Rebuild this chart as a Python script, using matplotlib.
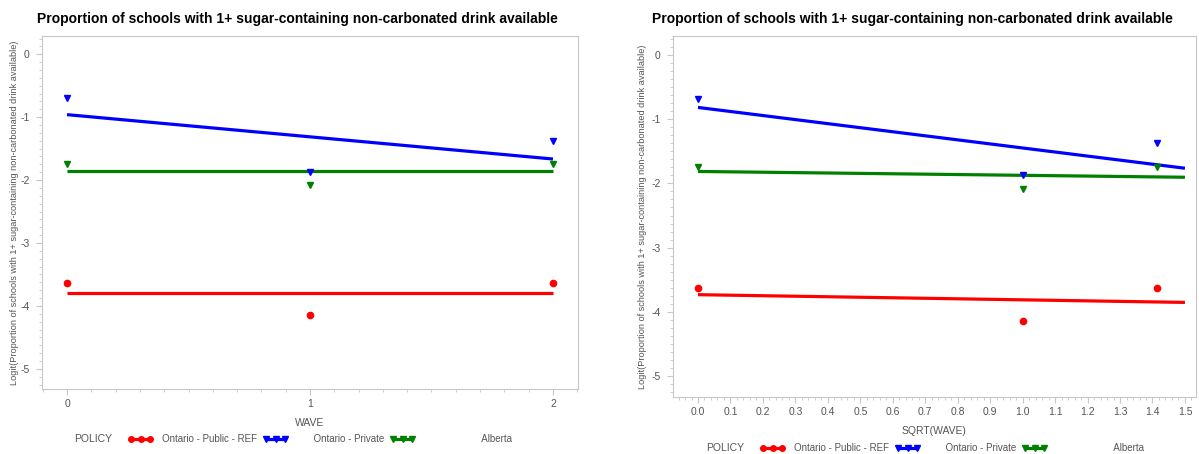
import numpy as np
import matplotlib
matplotlib.use("Agg")
import matplotlib.pyplot as plt
from matplotlib.lines import Line2D
from matplotlib.ticker import MultipleLocator

plt.rcParams['font.family'] = ['Liberation Sans', 'DejaVu Sans']
plt.rcParams['axes.unicode_minus'] = False

# observed logits per wave
wave = [0, 1, 2]
sqrt_wave = [0, 1, 1.414]
public_obs = [-3.63, -4.14, -3.63]
private_obs = [-0.69, -1.87, -1.38]
alberta_obs = [-1.745, -2.08, -1.745]

# fitted lines (end points)
fit_x_left = [0, 2]
public_fit_left = [-3.80, -3.80]
private_fit_left = [-0.96, -1.665]
alberta_fit_left = [-1.85, -1.85]

fit_x_right = [0, 1.5]
public_fit_right = [-3.73, -3.85]
private_fit_right = [-0.82, -1.765]
alberta_fit_right = [-1.815, -1.905]

labels = ["Ontario - Public - REF", "Ontario - Private", "Alberta"]
colors = ["#ff0000", "#0000ff", "#008000"]
markers = ["o", "v", "v"]

title = "Proportion of schools with 1+ sugar-containing non-carbonated drink available"
ylab = "Logit(Proportion of schools with 1+ sugar-containing non-carbonated drink available)"

fig = plt.figure(figsize=(11.99, 4.54), dpi=100)
ax1 = fig.add_axes([42/1199, 1-389/454, (578-42)/1199, (389-36)/454])
ax2 = fig.add_axes([673/1199, 1-397/454, (1196-673)/1199, (397-36)/454])

grey = "#c8c8c8"
tick_col = "#555555"


def draw(ax, xs, fx, obs, fits):
    for o, f, c, m in zip(obs, fits, colors, markers):
        ax.plot(fx, f, color=c, lw=2.3, solid_capstyle='butt', zorder=2)
        ax.plot(xs, o, linestyle='none', marker=m, color=c, markersize=4.5, zorder=3)
    for s in ax.spines.values():
        s.set_color(grey)
    ax.tick_params(colors=grey, labelcolor=tick_col, labelsize=7.5, length=4, width=0.8)
    ax.tick_params(axis='y', pad=5)
    ax.tick_params(which='minor', colors=grey, length=2.5, width=0.6)
    ax.yaxis.set_major_locator(MultipleLocator(1))
    ax.yaxis.set_minor_locator(MultipleLocator(0.125))
    ax.set_ylabel(ylab, fontsize=6.6, color=tick_col)


draw(ax1, wave, fit_x_left, [public_obs, private_obs, alberta_obs],
     [public_fit_left, private_fit_left, alberta_fit_left])
ax1.set_xlim(-0.103, 2.103)
ax1.set_ylim(-5.32, 0.29)
ax1.xaxis.set_major_locator(MultipleLocator(1))
ax1.xaxis.set_minor_locator(MultipleLocator(0.1))
ax1.set_xlabel("WAVE", fontsize=7.5, color=tick_col, labelpad=6)
ax1.yaxis.set_label_coords(-0.043, 0.5)

draw(ax2, sqrt_wave, fit_x_right, [public_obs, private_obs, alberta_obs],
     [public_fit_right, private_fit_right, alberta_fit_right])
ax2.set_xlim(-0.077, 1.534)
ax2.set_ylim(-5.32, 0.29)
ax2.xaxis.set_major_locator(MultipleLocator(0.1))
ax2.xaxis.set_minor_locator(MultipleLocator(0.02))
ax2.xaxis.set_major_formatter(plt.FormatStrFormatter('%.1f'))
ax2.set_xlabel("SQRT(WAVE)", fontsize=7.5, color=tick_col, labelpad=6)
ax2.yaxis.set_label_coords(-0.05, 0.5)

fig.text(297/1199, 1-19/454, title, ha='center', va='center', fontsize=10, fontweight='bold')
fig.text(912/1199, 1-19/454, title, ha='center', va='center', fontsize=10, fontweight='bold')

# legends
handles = [Line2D([], [], color=c, lw=2.3, marker=m, markersize=4) for c, m in zip(colors, markers)]
leg_labels = [labels[0], "      " + labels[1], "                     " + labels[2]]
for ax, xp, yp in [(ax1, 93, 439), (ax2, 725, 448)]:
    fig.text(xp/1199, 1-yp/454, "POLICY", ha='center', va='center', fontsize=7.5, color=tick_col)
    leg = fig.legend(handles, leg_labels, ncol=3, numpoints=3, frameon=False, fontsize=7,
                     handlelength=2.6, handletextpad=0.9, columnspacing=0.6,
                     loc='center left', bbox_to_anchor=((xp+35)/1199, 1-yp/454),
                     borderpad=0, borderaxespad=0)
    for t in leg.get_texts():
        t.set_color(tick_col)

fig.savefig("out.png", dpi=100)
